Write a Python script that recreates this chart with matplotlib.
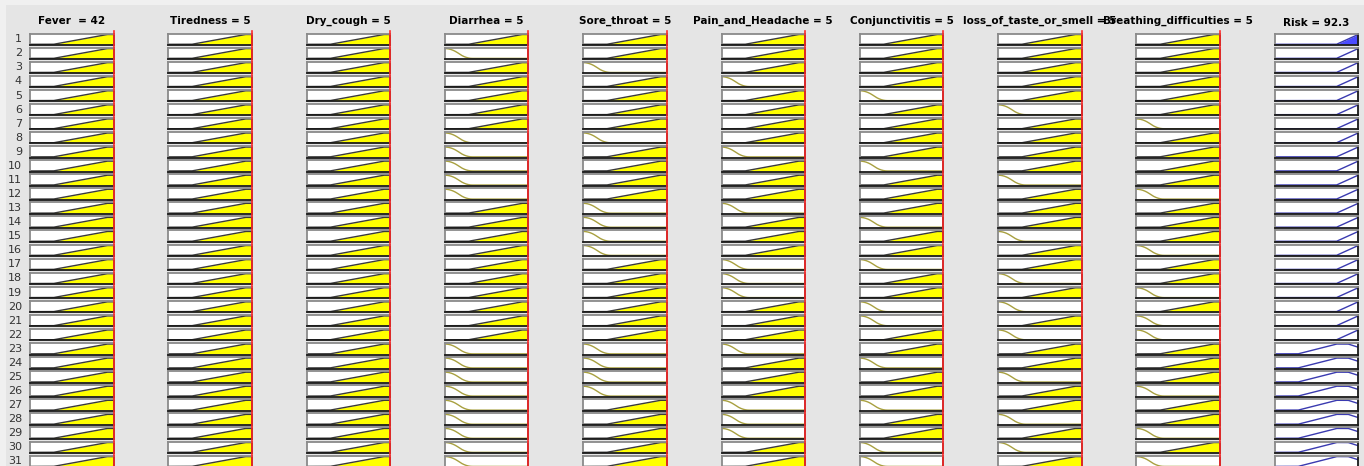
import numpy as np
import matplotlib
matplotlib.use("Agg")
import matplotlib.pyplot as plt
from matplotlib.lines import Line2D
from matplotlib.patches import Rectangle
import matplotlib.transforms as mtransforms

# ---------------- data ----------------
input_names = ["Fever", "Tiredness", "Dry_cough", "Diarrhea", "Sore_throat",
               "Pain_and_Headache", "Conjunctivitis", "loss_of_taste_or_smell",
               "Breathing_difficulties"]
input_values = [42, 5, 5, 5, 5, 5, 5, 5, 5]
input_ranges = [(35, 42), (0, 5), (0, 5), (0, 5), (0, 5), (0, 5), (0, 5), (0, 5), (0, 5)]

# membership function used by each rule (H = high, L = low), rows 1..31
fever_mf        = "HHHHHHHHHHHHHHHHHHHHHHHHHHHHHHH"
tiredness_mf    = "HHHHHHHHHHHHHHHHHHHHHHHHHHHHHHH"
dry_cough_mf    = "HHHHHHHHHHHHHHHHHHHHHHHHHHHHHHH"
diarrhea_mf     = "HLHHHHHLLLLLHHHHHHHHHHLLLLLLLLL"
sore_throat_mf  = "HHLHHHHLHHHHLLLLHHHHHHLLLLHHHHH"
pain_mf         = "HHHLHHHHLHHHLHHHLLLHHHLHHHLLLHH"
conjunct_mf     = "HHHHLHHHHLHHHLHHLHHLLHHLHHLHHLL"
taste_smell_mf  = "HHHHHLHHHHLHHHLHHLHLHLHHLHHLHLH"
breathing_mf    = "HHHHHHLHHHHLHHHLHHLHLLHHHLHHLHL"
risk_mf         = "HHHHHHHHHHHHHHHHHHHHHHMMMMMMMMM"

risk_name = "Risk"
risk_value = 92.3
risk_range = (0, 100)

# membership-function parameters (normalised to the variable range)
in_high_x, in_high_y = [0.0, 0.28, 0.92, 1.0], [0.0, 0.0, 1.0, 1.0]
in_low_ab = (0.0, 0.33)                       # zmf
out_high_x, out_high_y = [0.0, 0.74, 1.0], [0.0, 0.0, 1.0]
out_med_trap = (0.28, 0.74, 0.88, 1.25)       # trapmf

all_rules = [fever_mf, tiredness_mf, dry_cough_mf, diarrhea_mf, sore_throat_mf,
             pain_mf, conjunct_mf, taste_smell_mf, breathing_mf]

# ---------------- MF helpers ----------------
def zmf(x, a, b):
    y = np.ones_like(x)
    m = (a + b) / 2
    i1 = (x > a) & (x <= m)
    i2 = (x > m) & (x <= b)
    y[i1] = 1 - 2 * ((x[i1] - a) / (b - a)) ** 2
    y[i2] = 2 * ((x[i2] - b) / (b - a)) ** 2
    y[x > b] = 0
    return y

def trapmf(x, a, b, c, d):
    return np.clip(np.minimum((x - a) / (b - a), (d - x) / (d - c)), 0, 1)

def in_mf(kind, x):
    if kind == "H":
        return np.interp(x, in_high_x, in_high_y)
    return zmf(x, *in_low_ab)

def out_mf(kind, x):
    if kind == "H":
        return np.interp(x, out_high_x, out_high_y)
    return trapmf(x, *out_med_trap)

# ---------------- layout ----------------
W, H = 1364, 466
fig = plt.figure(figsize=(W / 100, H / 100), dpi=100, facecolor="#e5e5e5")
fig.patches.append(Rectangle((0, 1 - 5 / H), 1, 5 / H, transform=fig.transFigure,
                             facecolor="#f0f0f0", edgecolor="none", zorder=-1))
fig.patches.append(Rectangle((0, 0), 6 / W, 1, transform=fig.transFigure,
                             facecolor="#f0f0f0", edgecolor="none", zorder=-1))

n_rows = 31
col_left0, col_step, col_w = 30.0, 138.3, 83.5
row_top0, row_step, row_h = 33.5, 14.07, 11.5

xs = np.linspace(0, 1, 400)
norm_vals = [(v - lo) / (hi - lo) for v, (lo, hi) in zip(input_values, input_ranges)]

def style(ax):
    ax.set_xlim(0, 1)
    ax.set_ylim(-0.07, 1.1)
    ax.set_xticks([]); ax.set_yticks([])
    ax.set_facecolor("white")
    for s in ("top", "left"):
        ax.spines[s].set_color("#8a8a8a"); ax.spines[s].set_linewidth(1.3)
    for s in ("bottom", "right"):
        ax.spines[s].set_color("#1a1a1a"); ax.spines[s].set_linewidth(1.3)

# firing strength of each rule
firing = []
for r in range(n_rows):
    degs = [float(in_mf(rules[r], np.array([nv]))[0]) for rules, nv in zip(all_rules, norm_vals)]
    firing.append(min(degs))

top_axes = []
for c in range(10):
    left = col_left0 + c * col_step
    for r in range(n_rows):
        top = row_top0 + r * row_step
        ax = fig.add_axes([left / W, 1 - (top + row_h) / H, col_w / W, row_h / H])
        style(ax)
        if c < 9:
            kind = all_rules[c][r]
            y = in_mf(kind, xs)
            deg = float(in_mf(kind, np.array([norm_vals[c]]))[0])
            if deg > 0:
                ax.fill_between(xs, 0, np.minimum(y, deg), color="#ffff00", lw=0)
                ax.plot(xs, y, color="#3a3a3a", lw=1.0)
            else:
                ax.plot(xs, y, color="#a8a040", lw=1.0)
        else:
            kind = risk_mf[r]
            y = out_mf(kind, xs)
            if firing[r] > 0:
                ax.fill_between(xs, 0, np.minimum(y, firing[r]), color="#4b4bff", lw=0)
            ax.plot(xs, y, color="#3a3ab0", lw=1.0)
        if r == 0:
            top_axes.append(ax)
        if c == 0:
            fig.text(22 / W, 1 - (top + row_h / 2) / H, str(r + 1), ha="right",
                     va="center", fontsize=8, color="#333333")

# titles
for c in range(9):
    name = input_names[c]
    sep = "  = " if name == "Fever" else " = "
    cx = (col_left0 + c * col_step + col_w / 2) / W
    fig.text(cx, 1 - 21 / H, f"{name}{sep}{input_values[c]}", ha="center", va="center",
             fontsize=7.5, fontweight="bold", color="black")
cx = (col_left0 + 9 * col_step + col_w / 2) / W
fig.text(cx, 1 - 23.5 / H, f"{risk_name} = {risk_value}", ha="center", va="center",
         fontsize=7.5, fontweight="bold", color="black")

# red input-value lines
for c in range(9):
    ax = top_axes[c]
    tr = mtransforms.blended_transform_factory(ax.transData, fig.transFigure)
    ln = Line2D([norm_vals[c], norm_vals[c]], [0, 1 - 31 / H], transform=tr,
                color="#ff2a2a", lw=1.2, zorder=10)
    fig.add_artist(ln)

fig.savefig("out.png", dpi=100, facecolor=fig.get_facecolor())
